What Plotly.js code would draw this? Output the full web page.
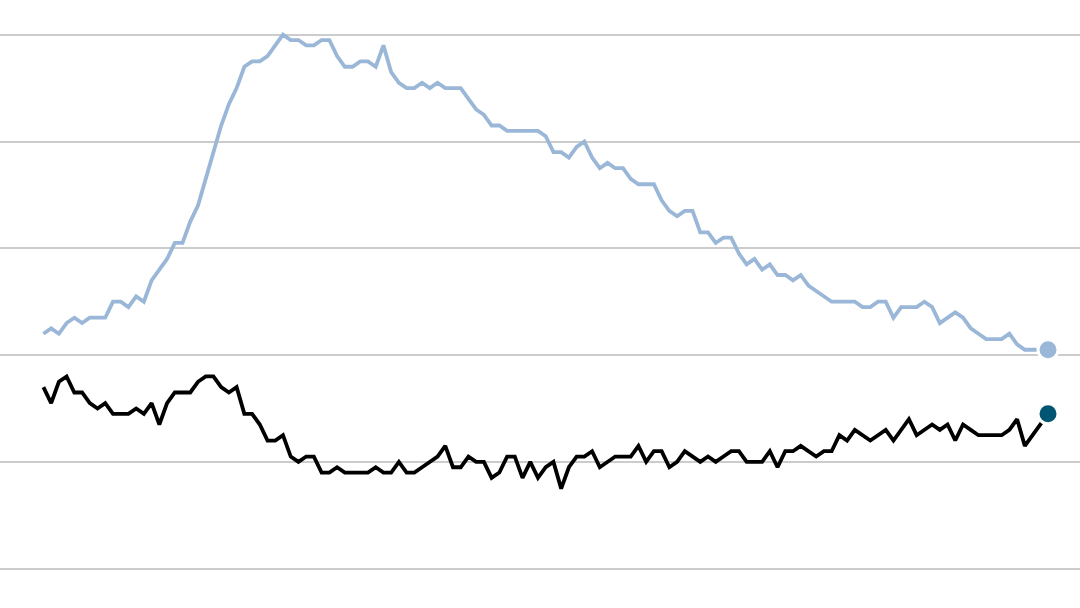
<!DOCTYPE html>
<html>
<head>
<meta charset="utf-8">
<script src="https://cdn.plot.ly/plotly-3.0.1.min.js"></script>
<style>
  html, body { margin: 0; padding: 0; background: #ffffff; }
  #chart { width: 1080px; height: 608px; }
</style>
</head>
<body>
<div id="chart"></div>
<script>
// Monthly observations, index 0 .. 130
const blueSeries = [
  4.4,4.5,4.4,4.6,4.7,4.6,4.7,4.7,4.7,5.0,
  5.0,4.9,5.1,5.0,5.4,5.6,5.8,6.1,6.1,6.5,
  6.8,7.3,7.8,8.3,8.7,9.0,9.4,9.5,9.5,9.6,
  9.8,10.0,9.9,9.9,9.8,9.8,9.9,9.9,9.6,9.4,
  9.4,9.5,9.5,9.4,9.8,9.3,9.1,9.0,9.0,9.1,
  9.0,9.1,9.0,9.0,9.0,8.8,8.6,8.5,8.3,8.3,
  8.2,8.2,8.2,8.2,8.2,8.1,7.8,7.8,7.7,7.9,
  8.0,7.7,7.5,7.6,7.5,7.5,7.3,7.2,7.2,7.2,
  6.9,6.7,6.6,6.7,6.7,6.3,6.3,6.1,6.2,6.2,
  5.9,5.7,5.8,5.6,5.7,5.5,5.5,5.4,5.5,5.3,
  5.2,5.1,5.0,5.0,5.0,5.0,4.9,4.9,5.0,5.0,
  4.7,4.9,4.9,4.9,5.0,4.9,4.6,4.7,4.8,4.7,
  4.5,4.4,4.3,4.3,4.3,4.4,4.2,4.1,4.1,4.1,
  4.1
];
const blackSeries = [
  3.4,3.1,3.5,3.6,3.3,3.3,3.1,3.0,3.1,2.9,
  2.9,2.9,3.0,2.9,3.1,2.7,3.1,3.3,3.3,3.3,
  3.5,3.6,3.6,3.4,3.3,3.4,2.9,2.9,2.7,2.4,
  2.4,2.5,2.1,2.0,2.1,2.1,1.8,1.8,1.9,1.8,
  1.8,1.8,1.8,1.9,1.8,1.8,2.0,1.8,1.8,1.9,
  2.0,2.1,2.3,1.9,1.9,2.1,2.0,2.0,1.7,1.8,
  2.1,2.1,1.7,2.0,1.7,1.9,2.0,1.5,1.9,2.1,
  2.1,2.2,1.9,2.0,2.1,2.1,2.1,2.3,2.0,2.2,
  2.2,1.9,2.0,2.2,2.1,2.0,2.1,2.0,2.1,2.2,
  2.2,2.0,2.0,2.0,2.2,1.9,2.2,2.2,2.3,2.2,
  2.1,2.2,2.2,2.5,2.4,2.6,2.5,2.4,2.5,2.6,
  2.4,2.6,2.8,2.5,2.6,2.7,2.6,2.7,2.4,2.7,
  2.6,2.5,2.5,2.5,2.5,2.6,2.8,2.3,2.5,2.7,
  2.9
];
const months = blueSeries.map((_, i) => i);

const blueColor = '#9ab7d8';
const blackColor = '#000000';
const endDotColor = '#005672';

const lastIdx = months.length - 1;

const traces = [
  { x: months, y: blueSeries, type: 'scatter', mode: 'lines',
    line: { color: blueColor, width: 3.8 }, hoverinfo: 'skip' },
  { x: months, y: blackSeries, type: 'scatter', mode: 'lines',
    line: { color: blackColor, width: 3.8 }, hoverinfo: 'skip' },
  { x: [months[lastIdx]], y: [blueSeries[lastIdx]], type: 'scatter', mode: 'markers',
    marker: { color: blueColor, size: 20, line: { color: '#ffffff', width: 3 } }, hoverinfo: 'skip' },
  { x: [months[lastIdx]], y: [blackSeries[lastIdx]], type: 'scatter', mode: 'markers',
    marker: { color: endDotColor, size: 20, line: { color: '#ffffff', width: 3 } }, hoverinfo: 'skip' }
];

const layout = {
  width: 1080, height: 608,
  margin: { l: 0, r: 0, t: 0, b: 0, pad: 0 },
  paper_bgcolor: '#ffffff', plot_bgcolor: '#ffffff',
  showlegend: false,
  hovermode: false,
  xaxis: { range: [-5.62, 134.14], showgrid: false, zeroline: false,
           showticklabels: false, ticks: '', showline: false, fixedrange: true },
  yaxis: { range: [-0.736, 10.650], tick0: 0, dtick: 2, showgrid: true,
           gridcolor: '#cccccc', gridwidth: 2,
           zeroline: true, zerolinecolor: '#cccccc', zerolinewidth: 2,
           showticklabels: false, ticks: '', showline: false, fixedrange: true }
};

Plotly.newPlot('chart', traces, layout, { staticPlot: true, displayModeBar: false });
</script>
</body>
</html>
